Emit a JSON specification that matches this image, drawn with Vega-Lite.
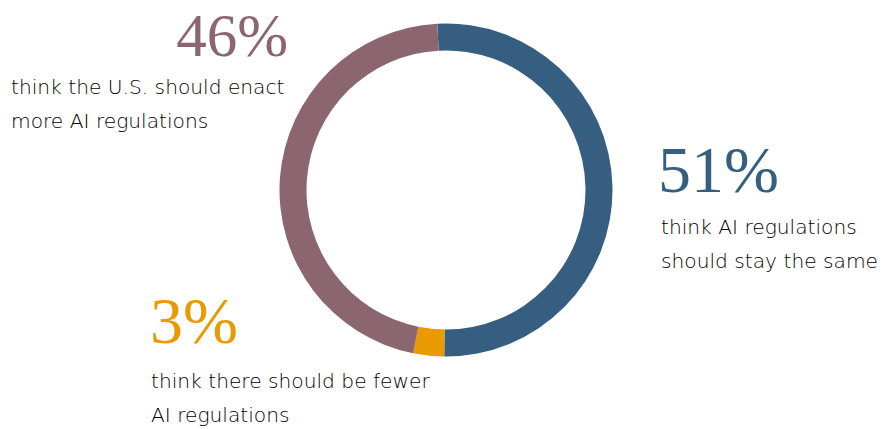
{
  "$schema": "https://vega.github.io/schema/vega-lite/v6.json",
  "width": 874,
  "height": 380,
  "autosize": "none",
  "padding": {"left": 9, "top": 0, "right": 0, "bottom": 49},
  "background": "white",
  "config": {"view": {"stroke": null}},
  "data": {
    "values": [
      {"key": "same", "value": 51, "rank": 1, "pct": "51%", "desc": ["think AI regulations", "should stay the same"]},
      {"key": "fewer", "value": 3, "rank": 2, "pct": "3%", "desc": ["think there should be fewer", "AI regulations"]},
      {"key": "more", "value": 46, "rank": 3, "pct": "46%", "desc": ["think the U.S. should enact", "more AI regulations"]}
    ]
  },
  "encoding": {
    "theta": {"field": "value", "type": "quantitative", "stack": true, "scale": {"range": [-0.0524, 6.2308]}},
    "order": {"field": "rank", "type": "quantitative"},
    "color": {
      "field": "key",
      "type": "nominal",
      "scale": {"domain": ["same", "fewer", "more"], "range": ["#355e80", "#e99a00", "#8b6670"]},
      "legend": null
    }
  },
  "layer": [
    {"mark": {"type": "arc", "outerRadius": 166.5, "innerRadius": 139.5}},
    {
      "transform": [{"filter": "datum.key === 'same'"}],
      "mark": {"type": "text", "radius": 0, "align": "left", "baseline": "alphabetic", "dx": 212, "dy": 2, "font": "Liberation Serif", "fontSize": 66},
      "encoding": {"text": {"field": "pct"}}
    },
    {
      "transform": [{"filter": "datum.key === 'same'"}],
      "mark": {"type": "text", "radius": 0, "align": "left", "baseline": "alphabetic", "dx": 215, "dy": 44, "font": "DejaVu Sans", "fontWeight": 200, "fontSize": 20.2, "lineHeight": 33.5},
      "encoding": {"text": {"field": "desc"}, "color": {"value": "#000000"}}
    },
    {
      "transform": [{"filter": "datum.key === 'fewer'"}],
      "mark": {"type": "text", "radius": 0, "align": "left", "baseline": "alphabetic", "dx": -296, "dy": 153, "font": "Liberation Serif", "fontSize": 66},
      "encoding": {"text": {"field": "pct"}}
    },
    {
      "transform": [{"filter": "datum.key === 'fewer'"}],
      "mark": {"type": "text", "radius": 0, "align": "left", "baseline": "alphabetic", "dx": -295, "dy": 198, "font": "DejaVu Sans", "fontWeight": 200, "fontSize": 20.2, "lineHeight": 33.5},
      "encoding": {"text": {"field": "desc"}, "color": {"value": "#000000"}}
    },
    {
      "transform": [{"filter": "datum.key === 'more'"}],
      "mark": {"type": "text", "radius": 0, "align": "right", "baseline": "alphabetic", "dx": -158, "dy": -134, "font": "Liberation Serif", "fontSize": 61},
      "encoding": {"text": {"field": "pct"}}
    },
    {
      "transform": [{"filter": "datum.key === 'more'"}],
      "mark": {"type": "text", "radius": 0, "align": "left", "baseline": "alphabetic", "dx": -435, "dy": -96, "font": "DejaVu Sans", "fontWeight": 200, "fontSize": 20.2, "lineHeight": 33.5},
      "encoding": {"text": {"field": "desc"}, "color": {"value": "#000000"}}
    }
  ]
}
